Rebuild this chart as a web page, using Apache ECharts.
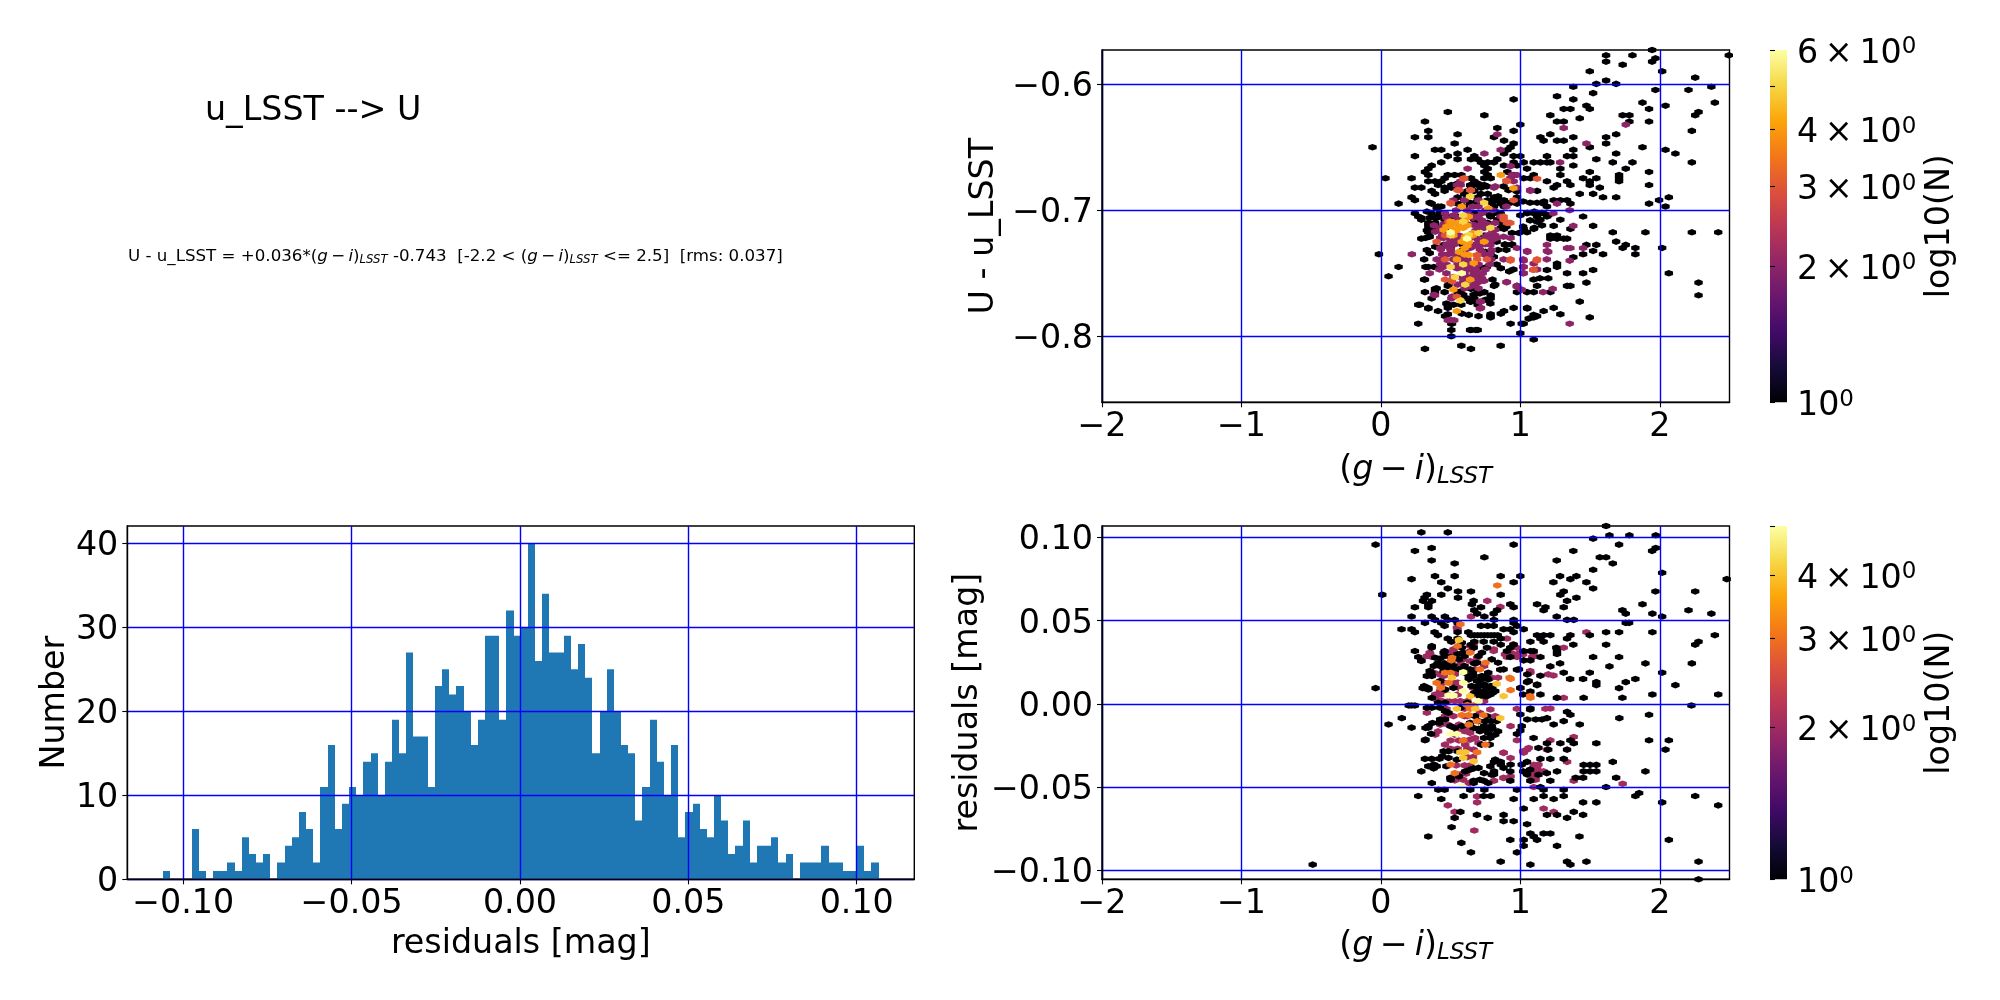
<!DOCTYPE html>
<html><head><meta charset="utf-8"><title>u_LSST to U</title>
<script src="https://cdn.jsdelivr.net/npm/echarts@6/dist/echarts.min.js"></script>
<style>html,body{margin:0;padding:0;background:#fff}#c{width:2000px;height:1000px}</style></head>
<body><div id="c"></div>
<script>
const histStart = -0.1060, histBinWidth = 0.002125;
const histCounts = [1,0,0,0,6,1,0,1,1,2,1,5,3,2,3,0,2,4,5,8,6,2,11,16,6,9,11,10,14,15,10,14,19,15,27,17,17,11,23,25,22,23,20,16,19,29,29,19,32,29,30,40,
26,34,27,27,29,25,28,24,15,20,25,20,16,15,7,11,19,14,10,16,5,8,9,6,5,10,7,3,4,7,2,4,4,5,2,3,0,2,2,2,4,2,2,1,1,4,1,2];
const colorXTicks = [-2,-1,0,1,2];
const fitYTicks = [-0.8,-0.7,-0.6];
const residYTicks = [-0.10,-0.05,0,0.05,0.10];
const histXTicks = [-0.10,-0.05,0,0.05,0.10];
const histYTicks = [0,10,20,30,40];
const fitBarTicks = [1,2,3,4,5,6];
const residBarTicks = [1,2,3,4,5];
const barLabelled = [1,2,3,4,6];
const inferno = ['#000004','#160b39','#420a68','#6a176e','#932667','#bc3754','#dd513a','#f37819','#fca50a','#f6d746','#fcffa4'];

// rows: [y, x, x, ...] for the hexagon cells holding N points
const fitN1 = [
[-0.5728,1.945],[-0.577,1.615,1.804,2.495],[-0.5794,1.969],[-0.582,1.615,1.945],[-0.5845,1.734],[-0.5897,1.498,2.017],[-0.5947,2.254],[-0.597,1.615],[-0.5997,1.545,1.687],[-0.602,1.38,2.37],[-0.6045,1.969,2.206],[-0.607,1.522],[-0.6095,1.263],[-0.612,0.952,1.38],[-0.6146,1.876,2.395],[-0.617,1.474,2.041],[-0.6196,1.311,1.359,1.498,1.923],[-0.622,0.48,2.278],[-0.6246,0.742,1.215,1.734,1.782,2.254],[-0.627,1.426],[-0.6296,0.316,1.263,1.311,1.782,1.923],[-0.632,1.0],[-0.6347,0.835],[-0.637,0.34,0.952,2.23],[-0.6397,0.55,1.215,1.687],[-0.642,0.244,0.34,0.811,1.144,1.38,1.615],[-0.6447,0.883,1.167,1.263,1.311],[-0.647,0.529,0.952,1.615],[-0.65,-0.06,0.93,1.498,1.876],[-0.652,0.388,0.433,0.622,0.907,1.38,2.041],[-0.655,0.55,0.883,1.687,2.112],[-0.657,0.244,0.48,0.67,0.952,1.0,1.191,1.335,1.38],[-0.6595,0.55,0.646,0.694,0.835,1.545],[-0.662,0.433,0.718,0.766,0.811,0.952,1.024,1.096,1.144,1.191,1.215,1.663,1.804,2.23],[-0.6645,0.364,0.742,0.883,0.976,1.38],[-0.667,0.34,0.766,1.048,1.287,1.756],[-0.6696,0.316,0.742,0.907,1.498,1.923],[-0.672,0.34,0.48,0.529,0.577,0.766,0.952,1.096,1.287,1.708],[-0.6746,0.033,0.22,0.457,0.646,0.742,0.787,1.024,1.072,1.45,1.545,1.708],[-0.677,0.34,0.388,0.433,0.67,1.191,1.335,1.498,1.708],[-0.68,0.41,0.505,0.55,0.694,0.742,1.263,1.359,1.498,1.923],[-0.682,0.244,0.29,0.457,0.505,0.646,0.718,1.239,1.57],[-0.6846,0.364,0.457,0.622,0.67,0.976,1.12],[-0.687,0.388,0.598,0.718,0.766,1.426,1.522],[-0.6897,0.22,0.55,0.694,0.811,0.976,1.593,1.687,2.065],[-0.692,0.244,0.598,0.766,0.835,0.883,1.239,1.287,1.335,1.995],[-0.6947,0.127,0.364,0.55,0.694,0.859,0.907,0.976,1.167,1.359,1.923],[-0.697,0.41,0.433,0.598,0.811,0.883,1.191,2.041],[-0.7024,0.244,0.364,0.457,0.67,0.718,0.811,0.859,1.048,1.096,1.167],[-0.705,0.268,0.41,0.505,0.55,0.787,0.859,1.12,1.191,1.45],[-0.7075,0.29,0.457,0.67,0.835,1.144,1.287],[-0.71,0.34,0.388,0.55,0.694,0.766,0.859],[-0.7124,1.522,1.239],[-0.7148,0.34,0.388,0.457,0.883,1.024,1.096,1.359],[-0.7175,0.34,0.457,1.048,1.663,1.897,2.23,2.419],[-0.72,0.457,0.742,1.215,1.263],[-0.7225,0.29,1.215,1.263,1.311,1.335],[-0.7249,1.687],[-0.7275,1.474,1.545,1.756],[-0.7299,1.734,1.825,2.017],[-0.7323,1.522],[-0.7349,-0.014,1.593,1.825,1.45],[-0.7373,1.38],[-0.7423,1.263],[-0.745,0.127,1.263],[-0.7474,1.522,1.191],[-0.75,1.335,1.45,2.065],[-0.7524,0.055],[-0.755,0.316],[-0.7574,1.474,2.278],[-0.76,1.335,1.359,0.48,0.811,0.976,1.12],[-0.7624,0.388,0.646],[-0.765,0.316,0.388,0.457,0.55,0.694,0.742,0.976,1.048,1.096,1.215],[-0.7675,0.787,2.278],[-0.77,0.364,0.622,0.67,0.787],[-0.7725,0.646,1.426],[-0.775,0.268,0.48,0.577,0.694],[-0.7775,0.34,0.48,0.952,1.048,1.239],[-0.78,0.41,0.883,1.167],[-0.7825,0.48,1.287,0.787],[-0.785,0.787,1.096,1.498],[-0.79,0.268,0.505,0.93,1.024],[-0.795,0.505,0.646,0.694],[-0.7976,1.0],[-0.8,0.505],[-0.8026,1.096],[-0.8075,0.577,0.859],[-0.81,0.316,0.646],
[-0.706,0.29,0.4,0.35],[-0.716,0.33],[-0.717,0.365],[-0.704,1.0,1.2,0.785],[-0.702,1.05,1.155,0.425,0.76],[-0.701,1.1,0.82,0.33],[-0.708,1.07],[-0.709,1.12],[-0.712,1.155,0.34,0.39],[-0.714,1.1,0.86],[-0.713,1.02,0.9],[-0.721,0.35],[-0.722,0.32,0.51],[-0.729,0.39],[-0.7315,0.33,0.84,0.9,0.59],[-0.734,0.35,0.51,0.785],[-0.73,0.5],[-0.739,0.31],[-0.745,0.34,0.32,0.38,0.76,0.71],[-0.7275,0.59,0.89,0.94,0.45],[-0.737,0.81],[-0.746,0.86],[-0.7485,0.92],[-0.747,0.95],[-0.743,0.83],[-0.755,0.8,1.095,0.31],[-0.759,0.82,0.485],[-0.75,1.02],[-0.754,1.14,1.2],[-0.762,0.4],[-0.7645,0.57],[-0.767,0.59,0.665],[-0.766,0.71],[-0.771,0.75],[-0.774,0.785,0.47],[-0.7725,0.68,0.64],[-0.775,0.52,0.28],[-0.778,0.34,1.05],[-0.784,0.46,0.7,0.785,1.12],[-0.782,0.58,0.86],[-0.783,0.63,1.095],[-0.786,1.06],[-0.79,1.01,0.51],[-0.795,0.64,0.68],
[-0.694,0.64,0.795,0.86,0.93,0.975,1.07,1.12,0.35],[-0.693,0.69,1.02,1.17],[-0.689,0.84],[-0.692,0.81],[-0.681,0.88,0.76],[-0.684,0.915],[-0.685,0.975],[-0.679,0.7,0.545],[-0.68,0.64],[-0.698,0.4],[-0.718,0.94,0.99],[-0.725,0.83],[-0.733,0.75],[-0.727,0.89,0.94]
];
const fitN2 = [
[-0.6347,1.311],[-0.632,1.756],[-0.6397,0.835],[-0.647,1.474],[-0.652,0.859],[-0.655,0.742],[-0.662,1.285],[-0.667,0.622],[-0.665,0.93],[-0.672,0.976,0.94],[-0.677,0.952,0.57],[-0.6746,0.928],[-0.68,0.572,0.545],[-0.682,0.811,0.976],[-0.6846,1.072],[-0.6947,1.263],[-0.7,1.354],[-0.7024,1.237,0.46],[-0.7124,1.38],[-0.7275,1.191,0.71,0.785],[-0.73,1.335,1.359,1.45,0.976,0.64,0.425],[-0.7323,1.191,1.048],[-0.7349,0.222],[-0.74,1.024,1.354],[-0.7423,1.096],[-0.745,1.024,0.45,1.02],[-0.75,1.024,0.665,0.71,0.35],[-0.757,0.904,0.7,0.9],[-0.76,0.976],[-0.765,1.163],[-0.7624,1.232],[-0.7675,0.388],[-0.77,0.505],[-0.7725,0.718,0.71],[-0.7775,0.718],[-0.7873,0.48,0.526],[-0.79,1.354],
[-0.681,0.82],[-0.684,1.07],[-0.705,0.86,0.69],[-0.71,0.82],[-0.704,0.52,0.64],[-0.708,0.725],[-0.714,0.74,0.425],[-0.712,0.38],[-0.717,0.39],[-0.722,0.45,0.68,0.76,0.93,0.83,0.425],[-0.725,0.52],[-0.729,0.485],[-0.739,0.4,0.59,0.88,1.02,1.19],[-0.734,0.52],[-0.737,0.59],[-0.746,0.64,0.57,0.545],[-0.747,0.62,1.12,0.75],[-0.753,0.68,0.62],[-0.7606,0.64,0.975],[-0.72,0.82],[-0.721,0.88,0.75],[-0.733,1.05,1.2,0.725],[-0.7685,0.51],[-0.767,0.38],[-0.778,0.71],[-0.787,0.5],[-0.743,0.425],[-0.763,1.01],[-0.7285,0.665],[-0.741,0.62],[-0.757,0.59],[-0.758,0.68],[-0.754,0.725],[-0.706,0.57],[-0.702,0.725],[-0.7156,0.82],[-0.7196,0.77],[-0.7315,0.795],[-0.7116,0.665],[-0.713,0.7],
[-0.706,0.47,0.55,0.66,0.7],[-0.711,0.45,0.62,0.72,0.76],[-0.716,0.42,0.68,0.8],[-0.72,0.44,0.56],[-0.7235,0.5,0.55,0.7,0.8],[-0.727,0.47,0.53,0.68,0.75],[-0.731,0.43,0.5,0.61,0.71],[-0.735,0.44,0.48,0.55,0.74,0.78],[-0.739,0.43,0.52,0.62,0.79],[-0.743,0.47,0.55,0.64,0.7,0.78],[-0.747,0.42,0.58,0.68],[-0.75,0.47,0.6,0.73],[-0.753,0.52,0.57,0.65],[-0.756,0.62,0.71,0.74],[-0.759,0.55,0.67],[-0.762,0.6,0.7],[-0.692,0.52,0.6,0.7],[-0.697,0.66,0.7,0.9],[-0.7,0.54,0.62,0.75,0.8]
];
const fitN3 = [[-0.675,0.59,1.12],[-0.684,0.56,0.64,0.55,0.646],[-0.694,0.5],[-0.6765,0.9],[-0.705,0.88],[-0.71,0.915,0.904,0.928],[-0.725,0.4],[-0.739,0.46,0.69,0.76,0.93,1.12],[-0.7355,0.69],[-0.747,1.095],[-0.755,0.46],[-0.7565,0.51],[-0.709,0.485],[-0.7685,0.545],[-0.6746,0.598],[-0.677,0.904],[-0.692,0.952],[-0.6947,0.502],[-0.7075,0.88],[-0.74,0.928,1.117],[-0.7474,1.093],[-0.72,0.46]];
const fitN4 = [[-0.709,0.5],[-0.7156,0.45,0.52],[-0.714,0.56,0.59],[-0.725,0.63,0.58,0.74],[-0.733,0.56],[-0.739,0.545],[-0.7355,0.63],[-0.672,0.86],[-0.6825,0.95],[-0.697,0.58],[-0.6985,0.77],[-0.755,0.64],[-0.78,0.545],[-0.763,0.52],[-0.742,0.665],[-0.721,0.605],[-0.7225,0.6],[-0.728,0.62],[-0.71,0.55],[-0.713,0.47],[-0.72,0.52],[-0.7125,0.5],[-0.718,0.66],[-0.705,0.63],[-0.712,0.62],[-0.716,0.54],[-0.73,0.6],[-0.708,0.6],[-0.735,0.6],[-0.72,0.66]];
const fitN5 = [[-0.704,0.59],[-0.709,0.59],[-0.72,0.5],[-0.718,0.7],[-0.714,0.785],[-0.689,0.64],[-0.694,0.74],[-0.759,0.605],[-0.753,0.53],[-0.7717,0.57],[-0.745,0.5],[-0.743,0.59],[-0.7196,0.63]];
const fitN6 = [[-0.75,0.58],[-0.7175,0.5],[-0.7225,0.617]];

const resN1 = [
[0.1068,1.615],[0.103,0.29,0.48],[0.1012,1.639,1.782,1.971],[0.0992,1.522],[0.0956,-0.038,0.952,1.708],[0.0936,0.364,1.971],[0.0918,0.244,1.38,1.945],[0.088,0.742,1.57,1.615],[0.0861,0.364,1.261],[0.0843,0.529,1.663],[0.0805,1.522],[0.0787,2.017],[0.0767,0.388,0.529,0.859,1.0,1.285,1.402],[0.0749,0.22,1.359,2.48],[0.073,0.433,0.952,1.237,1.474],[0.0693,0.48,1.522],[0.0675,0.553,0.646,1.311,1.969,2.254],[0.0655,0.01,0.433,0.33,0.859,1.287],[0.0637,0.313,0.553,1.402],[0.0618,0.302,0.366,1.335,0.665],[0.0598,0.34,1.12,0.653,0.928,1.876],[0.058,0.244,0.34,0.718,0.952,1.18,1.311],[0.0562,1.167,0.67,0.833,1.732,2.206],[0.0542,0.69,0.809,1.756,1.947,2.37],[0.0524,0.22,0.364,0.459,0.742,1.261,2.017],[0.0504,0.388,0.48,0.529,0.811,0.952,1.335,1.383],[0.0486,0.316,0.433,0.55,0.952,1.756,1.78],[0.0468,0.457,0.718,0.766,0.809,0.976],[0.0448,0.148,0.22,1.024,0.88,0.928],[0.043,0.244,0.385,0.55,0.627,0.952,1.615,1.708,1.947],[0.0412,0.409,0.646,0.67,0.694,0.718,0.742,0.766,0.79,0.814,0.838,1.12,1.167,1.215,1.359,1.498,2.395],[0.0392,0.48,0.55,0.859,1.144,1.335],[0.0373,0.505,0.67,0.737,0.809,1.072,1.167,2.278],[0.0355,0.646,0.859,0.952,1.38,1.615,2.254],[0.0337,0.364,0.665,0.761,0.928,1.258],[0.0317,0.244,0.457,0.904,1.024,1.072,1.096,1.263],[0.0299,0.55,1.263],[0.0281,0.268,0.505,0.928,1.144,1.522,1.708],[0.0261,0.29,0.505,1.024,1.072],[0.0243,0.407,0.457,0.505,0.67,1.285,1.897,2.23],[0.0225,1.215,1.639],[0.0205,0.856,0.976],[0.0187,0.361,1.311,1.498,2.017],[0.0169,1.144],[0.0149,1.357,1.45,1.825],[0.013,1.048,1.756,1.545],[0.0112,1.12,1.545,2.112],[0.0094,-0.038,0.3,0.34,1.708],[0.0074,1.072],[0.0056,1.144,1.947,2.419],[0.0036,1.263,1.454,1.732],
[-0.001,0.22,0.2,0.244,2.227],[-0.0028,1.072],[-0.0048,1.335],[-0.0066,1.923,1.359],[-0.0086,0.15,1.191,1.71],[-0.0104,1.311],[-0.0124,0.055,1.239,1.426],[-0.0143,0.22,0.34],[-0.0161,1.0],[-0.0181,0.976],[-0.0219,0.316,1.359,1.923,2.065],[-0.0237,1.191,1.287,1.545,1.383],[-0.0275,1.335,2.041],[-0.0331,0.316,0.364,1.144,1.215,1.311],[-0.0349,1.663,0.811,0.859,1.048],[-0.0367,1.454,1.5,1.545],[-0.0388,0.378,0.665],[-0.0406,0.29,0.605,0.811,0.928,1.263,1.454,1.5,1.545,1.897],[-0.0424,0.811,1.048],[-0.0444,1.687,0.498,1.397,1.45],[-0.0462,0.665,0.737,0.928,1.072,1.215],[-0.05,1.615,1.144],[-0.0516,0.412,0.457,0.641,0.742,0.976,1.167,1.311],[-0.0536,1.852],[-0.0554,0.268,0.593,0.787,0.737,1.825,2.254,1.311,1.167],[-0.0572,0.433,0.952,1.096,1.239],[-0.0592,1.45,1.545,2.017],[-0.061,2.419],[-0.0629,1.024],[-0.0649,0.57,1.383],[-0.0667,0.689,0.88,1.191,1.263,1.45],[-0.0685,0.766,0.529,1.335],[-0.0705,0.88,0.952],[-0.0723,1.048],[-0.0741,0.507],[-0.0779,1.167,1.215,1.072],[-0.0797,0.34,1.424,1.096],[-0.0817,0.928,1.024,1.12,2.065],[-0.0835,0.577],[-0.0853,1.024,1.263],[-0.0892,0.646,0.976],[-0.0948,0.859,1.335,1.474,2.278],[-0.0966,-0.489,1.072,1.359],[-0.1054,2.278],
[0.0337,0.58],[0.0367,0.58],[0.0307,0.45,0.725,0.59],[0.0277,0.39],[0.0272,0.425],[0.0257,0.29],[0.0347,0.365],[0.0267,0.795,0.56],[0.0247,0.84,0.69],[0.0207,0.88,0.51,0.64,0.99,0.56],[0.0237,0.5],[0.0217,0.46],[0.0227,0.425,0.52],[0.0197,0.35,0.45],[0.0167,0.365,0.33,0.665,0.63,0.725],[0.0137,0.425,0.69,1.06],[0.0116,0.74,1.12],[0.0096,0.77,0.52,1.0,0.69,0.795],[0.0076,0.74,0.82,0.7],[0.0046,0.71,0.75,0.76],[0.0056,0.785,1.02],[0.0106,0.31,0.785],[0.0086,0.34,0.46],[0.0036,0.365],[0.0006,0.41],[0.0177,1.05],[0.0157,0.76],
[-0.0024,0.33,0.365,0.425,0.57],[-0.0054,0.485],[-0.0044,0.46],[-0.0074,0.675,0.76],[-0.0114,0.64],[-0.0145,0.665,0.32,0.53],[-0.0165,0.71,0.84],[-0.0134,0.74,0.795,0.34,0.5,0.58,1.01],[-0.0175,0.77],[-0.0205,0.74,0.785,1.095],[-0.0185,0.82],[-0.0094,0.425,0.46,1.05,1.11,1.155],[-0.0215,0.32],[-0.0285,0.45,0.485],[-0.0315,0.44],[-0.0325,0.485],[-0.0335,0.545,0.82],[-0.0365,0.38,0.86,0.93,1.01],[-0.0375,0.34,0.4,0.47,0.785],[-0.0456,0.5,0.71],[-0.0436,0.56],[-0.0476,0.365,0.665,0.77],[-0.0395,0.64,1.07],[-0.0385,0.7,0.88],[-0.0416,0.74,1.19],[-0.0064,1.0],[-0.0034,1.07],[-0.0265,1.13],[-0.0406,1.02],[-0.0426,1.13,0.795],[-0.0275,1.2],
[0.0187,0.6,0.66,0.77],[0.0147,0.63,0.72,0.77],[0.0107,0.65,0.7,0.74,0.8],[0.0066,0.67,0.72,0.8],[0.0006,0.46,0.62],[-0.0104,0.7,0.75,0.79,0.83],[-0.015,0.7,0.75,0.8],[-0.0245,0.78,0.72],[-0.0115,0.37,0.42],[-0.018,0.36],[0.0287,0.46,0.6,0.7],[0.0227,0.6,0.38],[-0.0285,0.55],[-0.033,0.42]
];
const resN2 = [
[0.0618,0.763],[0.0582,0.857],[0.0524,0.646],[0.043,1.474],[0.0448,0.55],[0.0392,0.904],[0.0317,0.809,0.641],[0.0337,0.665,1.311],[0.0299,0.354,0.457,0.952],[0.0281,0.366,0.904,0.976,1.084],[0.0187,1.072,0.38],[0.017,1.237],[0.0036,1.263,1.311],[0.0094,1.0,0.337],
[-0.0028,1.215],[-0.0199,1.383],[-0.0219,1.215,0.976],[-0.0275,1.191,1.048,0.665],[-0.0293,0.88,1.024],[-0.0349,1.335],[-0.0444,0.55,1.096,0.88],[-0.0462,0.811,1.383],[-0.048,1.734],[-0.061,0.48],[-0.0629,1.167],[-0.0649,1.239,0.529],[-0.0761,0.67],[-0.0385,1.12],[-0.0367,1.096],[-0.0406,1.167,1.084,1.14],[-0.05,1.096],[-0.0556,0.69],[-0.0592,0.69],
[0.0458,0.545],[0.0307,0.35,0.5,0.93,1.0],[0.0287,0.33,0.95],[0.0327,0.52,0.81],[0.0347,0.64],[0.0357,0.665,0.95],[0.0337,0.975],[0.0297,0.89,1.02,1.095],[0.0277,0.69],[0.0267,0.59],[0.0257,0.64],[0.0227,0.74],[0.0237,0.57],[0.0167,0.45],[0.0177,0.53,1.2],[0.0157,0.795,0.84],[0.0076,0.425,0.76],[0.0086,0.45],[0.0056,0.47,0.39],[0.0026,0.4],[0.0016,0.485,0.57],[0.0197,1.07],
[-0.0074,0.52,0.82],[-0.0054,0.71,0.33],[-0.0034,0.785],[-0.0134,0.93],[-0.0185,0.39,0.53],[-0.0165,0.41],[-0.0145,0.62],[-0.0175,0.64],[-0.0205,0.675],[-0.0235,0.7],[-0.0215,0.64],[-0.0245,0.605,0.46],[-0.0125,0.425],[-0.0295,0.88],[-0.0325,0.93],[-0.0285,1.02],[-0.0265,1.06],[-0.0375,1.11],[-0.0365,1.13],[-0.0436,1.08,0.93],[-0.0456,1.11,0.59],[-0.0446,0.88],[-0.0476,0.63],[-0.003,0.975,1.18],
[0.0237,0.42,0.46],[0.0207,0.6,0.68],[0.0177,0.45,0.42],[0.0127,0.52,0.55,0.45],[0.0096,0.43,0.56,0.66],[0.0056,0.43,0.55,0.66],[0.0016,0.44,0.53,0.62,0.74],[-0.003,0.47,0.6],[-0.0074,0.46,0.6,0.62],[-0.0125,0.48,0.56],[-0.0165,0.55,0.6],[-0.022,0.56,0.6,0.5],[-0.027,0.55,0.62,0.5],[-0.032,0.62,0.66],[-0.037,0.54,0.6,0.64],[-0.042,0.58,0.61],[-0.046,0.53]
];
const resN3 = [[0.0478,0.57],[0.0307,0.64],[0.0277,0.51],[0.0247,0.75],[0.0207,0.71],[0.0126,0.485,0.4],[0.0157,0.923],[0.0082,0.93],[0.0046,1.07],[-0.003,0.64],[-0.0068,0.735,0.58,0.63],[-0.0104,0.69],[-0.0219,0.59],[-0.0245,0.75],[-0.0291,0.69],[-0.0365,0.5],[-0.0416,0.53],[0.0711,0.835],[0.0261,0.505],[0.015,0.93],[0.0036,1.072],[0.0347,0.55],[0.0187,0.5,0.46],[0.0096,0.43],[-0.0007,0.62,0.67],[-0.0125,0.63]];
const resN4 = [[0.0384,0.56],[0.012,0.83],[0.0046,0.64,0.88],[-0.003,0.545,0.677],[-0.0086,0.856],[-0.0291,0.57,0.605],[-0.0325,0.59],[-0.0345,0.665],[0.0157,0.51]];
const resN5 = [[0.019,0.59],[0.0126,0.59],[0.005,0.52,0.485],[0.0076,0.59],[0.0016,0.7],[-0.0181,0.545,0.5],[-0.0496,0.58]];

const FONT = 'DejaVu Sans', FS = 33.3;
const THIN = '\u2009';
const minus = s => s.replace('-', '\u2212');
const mathRich = {
  r:{fontFamily:FONT,fontSize:FS,color:'#000'},
  i:{fontFamily:FONT,fontSize:FS,fontStyle:'italic',color:'#000'},
  s:{fontFamily:FONT,fontSize:23,fontStyle:'italic',color:'#000',verticalAlign:'bottom',padding:[13,0,0,0]}
};
const mathName = '{r|(}{i|g}{r|'+THIN+'\u2212'+THIN+'}{i|i}{r|)}{s|LSST}';
const hexagon = 'path://M0 -1L0.866 -0.5L0.866 0.5L0 1L-0.866 0.5L-0.866 -0.5Z';
const BLUE = '#0000ff';

function flat(rows){ const out=[]; rows.forEach(r=>{ for(let k=1;k<r.length;k++) out.push([r[k],r[0]]); }); return out; }
function hex2rgb(h){ return [1,3,5].map(i=>parseInt(h.substr(i,2),16)); }
function infernoAt(t){
  const p=Math.max(0,Math.min(1,t))*(inferno.length-1), a=Math.min(Math.floor(p),inferno.length-2), f=p-a;
  const A=hex2rgb(inferno[a]),B=hex2rgb(inferno[a+1]);
  return 'rgb('+A.map((v,i)=>Math.round(v+(B[i]-v)*f)).join(',')+')';
}
function baseAxis(grid,extra){
  return Object.assign({
    gridIndex:grid,type:'value',z:10,scale:true,
    axisLine:{show:true,onZero:false,lineStyle:{color:'#000',width:1.4}},
    splitLine:{show:true,lineStyle:{color:BLUE,width:1.4}},
    minorTick:{show:false},
    nameLocation:'middle',
    nameTextStyle:{fontFamily:FONT,fontSize:FS,color:'#000',rich:mathRich}
  },extra);
}
function ticked(values,fmt,extra,shiftY){
  const e=Object.assign({},extra);
  e.axisTick={show:true,length:5,lineStyle:{color:'#000',width:1.1},customValues:values};
  e.axisLabel={show:true,customValues:values,formatter:v=>'{t|'+fmt(v)+'}',
    rich:{t:{fontFamily:FONT,fontSize:FS,color:'#000'}},
    fontFamily:FONT,fontSize:FS,color:'#000',margin:9,hideOverlap:false,padding:shiftY?[shiftY,0,0,0]:0};
  return e;
}
const Y_SHIFT=7;
const fmtInt = v => minus(String(Math.round(v)));
const fmt1 = v => minus(v.toFixed(1));
const fmt2 = v => Math.abs(v)<1e-9 ? '0.00' : minus(v.toFixed(2));
const barFmt = v => {
  const n=Math.round(Math.pow(10,v));
  if(!barLabelled.includes(n)) return '';
  return n===1 ? '{a|10}{p|0}' : '{a|'+n+THIN+'\u00d7'+THIN+'10}{p|0}';
};
const barRich = {
  a:{fontFamily:FONT,fontSize:FS,color:'#000'},
  p:{fontFamily:FONT,fontSize:23,color:'#000',verticalAlign:'bottom',padding:[0,0,13,0]}
};

const grids=[
  {left:127.3,top:526,width:787,height:353.3,show:true,borderColor:'#000',borderWidth:1.4,outerBoundsMode:'none'},
  {left:1102,top:50,width:627.5,height:352.3,show:true,borderColor:'#000',borderWidth:1.4,outerBoundsMode:'none'},
  {left:1102,top:526,width:627.5,height:353.3,show:true,borderColor:'#000',borderWidth:1.4,outerBoundsMode:'none'},
  {left:1770,top:50,width:17,height:352.3,outerBoundsMode:'none'},
  {left:1770,top:526,width:17,height:353.3,outerBoundsMode:'none'}
];
const xAxes=[
  baseAxis(0,ticked(histXTicks,fmt2,{min:-0.1166,max:0.1171,name:'residuals [mag]',nameGap:49})),
  baseAxis(1,ticked(colorXTicks,fmtInt,{min:-2,max:2.5,name:mathName,nameGap:50})),
  baseAxis(2,ticked(colorXTicks,fmtInt,{min:-2,max:2.5,name:mathName,nameGap:49})),
  {gridIndex:3,type:'value',min:0,max:1,show:false},
  {gridIndex:4,type:'value',min:0,max:1,show:false}
];
function barAxis(grid,ticks,maxN){
  const vals=ticks.map(v=>Math.log10(v));
  return {gridIndex:grid,type:'value',position:'right',min:0,max:Math.log10(maxN),z:10,
    axisLine:{show:false},splitLine:{show:false},
    axisTick:{show:true,length:5,lineStyle:{color:'#000',width:1.1},customValues:vals},
    axisLabel:{show:true,customValues:vals,formatter:barFmt,rich:barRich,fontFamily:FONT,fontSize:FS,color:'#000',margin:10,hideOverlap:false,padding:[8,0,0,0]},
    name:'log10(N)',nameLocation:'middle',nameRotate:90,nameGap:137,
    nameTextStyle:{fontFamily:FONT,fontSize:FS,color:'#000'}};
}
const yAxes=[
  baseAxis(0,ticked(histYTicks,fmtInt,{min:0,max:42.06,name:'Number',nameGap:55},Y_SHIFT)),
  baseAxis(1,ticked(fitYTicks,fmt1,{min:-0.8524,max:-0.5728,name:'U - u_LSST',nameGap:101},Y_SHIFT)),
  baseAxis(2,ticked(residYTicks,fmt2,{min:-0.1054,max:0.1068,name:'residuals [mag]',nameGap:117},Y_SHIFT)),
  barAxis(3,fitBarTicks,6),
  barAxis(4,residBarTicks,5)
];
const histData=histCounts.map((c,i)=>[histStart+i*histBinWidth,histStart+(i+1)*histBinWidth,c]);
const series=[{
  type:'custom',xAxisIndex:0,yAxisIndex:0,clip:true,silent:true,
  data:histData,encode:{x:[0,1],y:2},
  renderItem:(p,api)=>{
    if(api.value(2)<=0) return null;
    const a=api.coord([api.value(0),api.value(2)]),b=api.coord([api.value(1),0]);
    const x0=Math.round(a[0]),x1=Math.round(b[0]);
    return {type:'rect',shape:{x:x0,y:a[1],width:x1-x0,height:b[1]-a[1]},style:{fill:'#1f77b4'}};
  }
}];
function hexSeries(idx,rows,n,maxN){
  series.push({type:'scatter',xAxisIndex:idx,yAxisIndex:idx,clip:true,silent:true,animation:false,
    symbol:hexagon,symbolSize:[8.4,6.6],data:flat(rows),
    itemStyle:{color:infernoAt(Math.log(n)/Math.log(maxN)),opacity:1}});
}
[[fitN1,1],[fitN2,2],[fitN3,3],[fitN4,4],[fitN5,5],[fitN6,6]].forEach(s=>hexSeries(1,s[0],s[1],6));
[[resN2,2],[resN1,1],[resN3,3],[resN4,4],[resN5,5]].forEach(s=>hexSeries(2,s[0],s[1],5));
[[3,6],[4,5]].forEach(([idx,maxN])=>{
  series.push({type:'custom',xAxisIndex:idx,yAxisIndex:idx,silent:true,data:[[0,1,Math.log10(maxN)]],encode:{x:[0,1],y:2},
    renderItem:(p,api)=>{
      const a=api.coord([0,api.value(2)]),b=api.coord([1,0]),cs=p.coordSys;
      return {type:'rect',shape:{x:cs.x,y:a[1],width:cs.width,height:b[1]-a[1]},
        style:{fill:new echarts.graphic.LinearGradient(0,1,0,0,inferno.map((c,i)=>({offset:i/(inferno.length-1),color:c})))}};
    }});
});
const chart=echarts.init(document.getElementById('c'),null,{renderer:'canvas'});
const eqMinus='{a|'+THIN+'\u2212'+THIN+'}';
chart.setOption({
  animation:false,backgroundColor:'#fff',
  title:[
    {text:'u_LSST --> U',left:205,top:95,padding:0,textStyle:{fontFamily:FONT,fontSize:FS,fontWeight:'normal',color:'#000'}},
    {text:'{a|U - u_LSST = +0.036*(}{i|g}'+eqMinus+'{i|i}{a|)}{s|LSST}{a| -0.743  [-2.2 < (}{i|g}'+eqMinus+'{i|i}{a|)}{s|LSST}{a| <= 2.5]  [rms: 0.037]}',
     left:128,top:248,padding:0,
     textStyle:{fontFamily:FONT,fontSize:16.67,fontWeight:'normal',color:'#000',rich:{
       a:{fontFamily:FONT,fontSize:16.67,color:'#000'},
       i:{fontFamily:FONT,fontSize:16.67,fontStyle:'italic',color:'#000'},
       s:{fontFamily:FONT,fontSize:11.7,fontStyle:'italic',color:'#000',verticalAlign:'bottom',padding:[6,0,0,0]}
     }}}
  ],
  grid:grids,xAxis:xAxes,yAxis:yAxes,series:series
});
</script></body></html>
